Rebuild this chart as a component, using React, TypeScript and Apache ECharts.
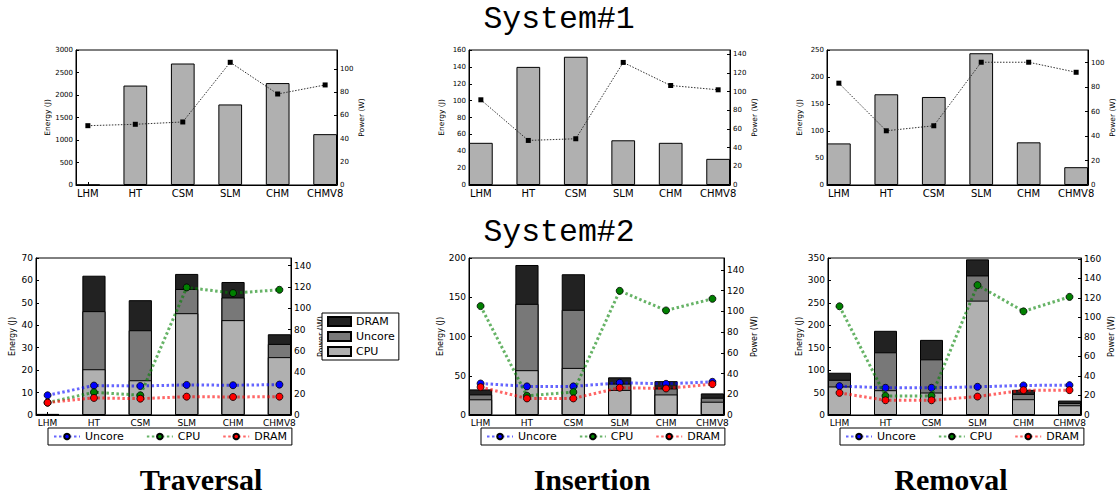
import React, { useEffect, useRef } from 'react';
import * as echarts from 'echarts';

// ---------- data ----------
const categories = ['LHM', 'HT', 'CSM', 'SLM', 'CHM', 'CHMV8'];

// System#1 (top row)
const travS1Energy = [0, 2210, 2700, 1790, 2265, 1130];
const travS1Power = [51.1, 52.3, 54.3, 105.7, 78.4, 86.2];
const insS1Energy = [50, 140, 152, 53, 50, 31];
const insS1Power = [91.2, 47.7, 49.5, 131.2, 106.5, 101.9];
const remS1Energy = [77, 168, 163, 244, 79, 33];
const remS1Power = [83.2, 44.3, 48.4, 100.3, 100.3, 92.1];

// System#2 (bottom row) energy components (J)
const travS2Cpu = [0.2, 20.4, 15.5, 45.4, 42.3, 25.8];
const travS2Uncore = [0.1, 25.9, 22.3, 10.8, 10.1, 5.9];
const travS2Dram = [0.2, 15.8, 13.4, 6.7, 6.9, 4.3];
const insS2Cpu = [20, 57.1, 60, 32, 26.2, 16.9];
const insS2Uncore = [6.2, 84.5, 74, 8, 7.6, 5.1];
const insS2Dram = [6.4, 49.5, 45.3, 8, 9.3, 5.5];
const remS2Cpu = [63.6, 55.3, 50.1, 255, 35.2, 21.7];
const remS2Uncore = [14.9, 84.5, 74, 56.1, 11.9, 5.2];
const remS2Dram = [15.7, 47.9, 43.4, 35.9, 9, 5.3];

// System#2 power (W)
const travS2PUncore = [18.5, 27.6, 27.2, 28.2, 27.9, 28.5];
const travS2PCpu = [11.6, 21.3, 18.5, 119.6, 114.3, 117.4];
const travS2PDram = [11.6, 16.0, 15.3, 17.2, 16.9, 17.2];
const insS2PUncore = [30.4, 27.6, 27.6, 31.1, 30.1, 32.0];
const insS2PCpu = [105.1, 18.6, 22.1, 119.8, 100.9, 112.1];
const insS2PDram = [26.9, 16.0, 16.0, 26.3, 25.6, 29.8];
const remS2PUncore = [29.6, 27.9, 27.9, 28.9, 30.3, 30.6];
const remS2PCpu = [111.5, 19.6, 19.6, 133.2, 106.3, 121.1];
const remS2PDram = [22.7, 15.1, 15.1, 18.9, 25.5, 25.5];

// axis ranges / ticks
const topEnergyAxes = [
  { max: 3000, interval: 500 },
  { max: 160, interval: 20 },
  { max: 250, interval: 50 },
];
const topPowerAxes = [
  { max: 116.3, ticks: [0, 20, 40, 60, 80, 100] },
  { max: 144.5, ticks: [0, 20, 40, 60, 80, 100, 120, 140] },
  { max: 110.3, ticks: [0, 20, 40, 60, 80, 100] },
];
const bottomEnergyAxes = [
  { max: 70, interval: 10 },
  { max: 200, interval: 50 },
  { max: 350, interval: 50 },
];
const bottomPowerAxes = [
  { max: 147.2, ticks: [0, 20, 40, 60, 80, 100, 120, 140] },
  { max: 151.5, ticks: [0, 20, 40, 60, 80, 100, 120, 140] },
  { max: 161, ticks: [0, 20, 40, 60, 80, 100, 120, 140, 160] },
];

const panelTitles = ['Traversal', 'Insertion', 'Removal'];
const rowTitles = ['System#1', 'System#2'];

// ---------- layout ----------
const FONT = 'DejaVu Sans';
const topGrids = [
  { left: 76, top: 50, width: 261, height: 135 },
  { left: 469, top: 50, width: 261, height: 135 },
  { left: 827, top: 50, width: 261, height: 135 },
];
const bottomGrids = [
  { left: 36, top: 258, width: 255, height: 157 },
  { left: 469, top: 258, width: 255, height: 157 },
  { left: 828, top: 258, width: 253, height: 157 },
];
const bottomLegendLeft = [48, 481, 840];
const panelCenters = [201, 592, 951];

const CPU_COLOR = '#b0b0b0';
const UNCORE_COLOR = '#787878';
const DRAM_COLOR = '#222222';

export default function App() {
  const ref = useRef<HTMLDivElement>(null);

  useEffect(() => {
    document.body.style.margin = '0';
    const chart = echarts.init(ref.current!, null, { renderer: 'svg' });

    const xs = categories.map((_, i) => i + 0.25);
    const pair = (vals: number[]) => xs.map((x, i) => [x, vals[i]]);

    const grids: any[] = [];
    const xAxes: any[] = [];
    const yAxes: any[] = [];
    const series: any[] = [];

    const addAxes = (
      g: any,
      top: boolean,
      energy: { max: number; interval: number },
      power: { max: number; ticks: number[] }
    ) => {
      const k = grids.length;
      grids.push({ ...g, show: true, borderColor: '#000', borderWidth: 1, backgroundColor: 'transparent' });
      const tickFont = top ? 7 : 9;
      const xFont = top ? 10 : 9;
      xAxes.push({
        type: 'value',
        gridIndex: k,
        min: 0,
        max: 5.5,
        axisLine: { show: true, lineStyle: { color: '#000' } },
        axisTick: { show: true, inside: true, length: 3, customValues: xs, lineStyle: { color: '#000' } },
        axisLabel: {
          customValues: xs,
          formatter: (v: number) => categories[Math.round(v - 0.25)] ?? '',
          color: '#000',
          fontSize: xFont,
          fontFamily: FONT,
          margin: 3,
        },
        splitLine: { show: false },
      });
      yAxes.push({
        type: 'value',
        gridIndex: k,
        position: 'left',
        min: 0,
        max: energy.max,
        interval: energy.interval,
        name: 'Energy (J)',
        nameLocation: 'middle',
        nameRotate: 90,
        nameGap: top ? 24 : 20,
        nameTextStyle: { fontSize: top ? 7.5 : 8, fontFamily: FONT, color: '#000' },
        axisLine: { show: true, lineStyle: { color: '#000' } },
        axisTick: { show: true, inside: true, length: 3, lineStyle: { color: '#000' } },
        axisLabel: {
          color: '#000',
          fontSize: tickFont,
          fontFamily: FONT,
          margin: 3,
          formatter: (v: number) => String(v),
        },
        splitLine: { show: false },
      });
      yAxes.push({
        type: 'value',
        gridIndex: k,
        position: 'right',
        min: 0,
        max: power.max,
        name: 'Power (W)',
        nameLocation: 'middle',
        nameRotate: 90,
        nameGap: top ? 20 : 26,
        nameTextStyle: { fontSize: top ? 7.5 : 8, fontFamily: FONT, color: '#000' },
        axisLine: { show: true, lineStyle: { color: '#000' } },
        axisTick: { show: true, inside: true, length: 3, customValues: power.ticks, lineStyle: { color: '#000' } },
        axisLabel: {
          customValues: power.ticks,
          color: '#000',
          fontSize: tickFont,
          fontFamily: FONT,
          margin: 3,
          formatter: (v: number) => String(v),
        },
        splitLine: { show: false },
      });
      return k;
    };

    const topData = [
      [travS1Energy, travS1Power],
      [insS1Energy, insS1Power],
      [remS1Energy, remS1Power],
    ];
    topData.forEach(([energy, power], p) => {
      const k = addAxes(topGrids[p], true, topEnergyAxes[p], topPowerAxes[p]);
      const barW = (0.5 * topGrids[p].width) / 5.5;
      series.push({
        type: 'bar',
        name: 'Energy',
        xAxisIndex: k,
        yAxisIndex: 2 * k,
        data: pair(energy),
        barWidth: barW,
        itemStyle: { color: CPU_COLOR, borderColor: '#000', borderWidth: 1 },
        z: 2,
      });
      series.push({
        type: 'line',
        name: 'Power',
        xAxisIndex: k,
        yAxisIndex: 2 * k + 1,
        data: pair(power),
        symbol: 'rect',
        symbolSize: 5,
        itemStyle: { color: '#000' },
        lineStyle: { color: '#333', width: 1, type: [1.5, 1.5] },
        z: 3,
      });
    });

    const bottomData = [
      [travS2Cpu, travS2Uncore, travS2Dram, travS2PUncore, travS2PCpu, travS2PDram],
      [insS2Cpu, insS2Uncore, insS2Dram, insS2PUncore, insS2PCpu, insS2PDram],
      [remS2Cpu, remS2Uncore, remS2Dram, remS2PUncore, remS2PCpu, remS2PDram],
    ];
    bottomData.forEach(([cpu, unc, dram, pUnc, pCpu, pDram], p) => {
      const k = addAxes(bottomGrids[p], false, bottomEnergyAxes[p], bottomPowerAxes[p]);
      const barW = (0.5 * bottomGrids[p].width) / 5.5;
      // stacked segments drawn as cumulative bars, largest first
      const cpuTop = cpu;
      const uncTop = cpu.map((v, i) => v + unc[i]);
      const dramTop = uncTop.map((v, i) => v + dram[i]);
      const bars: [string, number[], string][] = [
        ['DRAM energy', dramTop, DRAM_COLOR],
        ['Uncore energy', uncTop, UNCORE_COLOR],
        ['CPU energy', cpuTop, CPU_COLOR],
      ];
      bars.forEach(([name, vals, color]) => {
        series.push({
          type: 'bar',
          name,
          xAxisIndex: k,
          yAxisIndex: 2 * k,
          data: pair(vals),
          barWidth: barW,
          barGap: '-100%',
          itemStyle: { color, borderColor: '#000', borderWidth: 1 },
          z: 2,
        });
      });
      const lines: [string, number[], string][] = [
        ['Uncore', pUnc, '#0000ff'],
        ['CPU', pCpu, '#008000'],
        ['DRAM', pDram, '#ff0000'],
      ];
      lines.forEach(([name, vals, color], j) => {
        series.push({
          type: 'line',
          name,
          xAxisIndex: k,
          yAxisIndex: 2 * k + 1,
          data: pair(vals),
          symbol: 'circle',
          symbolSize: 7,
          itemStyle: { color, borderColor: '#000', borderWidth: 0.8 },
          lineStyle: { color, width: 3, type: [2.5, 2.5], opacity: 0.6 },
          z: 3 + j,
        });
      });
    });

    const lineLegends = bottomLegendLeft.map((left) => ({
      data: ['Uncore', 'CPU', 'DRAM'],
      left,
      top: 428,
      orient: 'horizontal',
      borderColor: '#000',
      borderWidth: 1,
      borderRadius: 0,
      padding: [3, 5, 3, 5],
      itemGap: 22,
      itemWidth: 26,
      itemHeight: 7,
      backgroundColor: '#fff',
      selectedMode: false,
      textStyle: { fontFamily: FONT, fontSize: 11, color: '#000' },
    }));

    const option: any = {
      animation: false,
      backgroundColor: '#fff',
      grid: grids,
      xAxis: xAxes,
      yAxis: yAxes,
      series,
      legend: [
        {
          data: ['DRAM energy', 'Uncore energy', 'CPU energy'],
          formatter: (n: string) => n.replace(' energy', ''),
          orient: 'vertical',
          left: 322,
          top: 313,
          borderColor: '#000',
          borderWidth: 1,
          borderRadius: 0,
          padding: [3, 4, 3, 5],
          itemGap: 4,
          itemWidth: 23,
          itemHeight: 9,
          icon: 'rect',
          backgroundColor: '#fff',
          selectedMode: false,
          textStyle: { fontFamily: FONT, fontSize: 11, color: '#000' },
        },
        ...lineLegends,
      ],
      graphic: [
        ...rowTitles.map((t, i) => ({
          type: 'text',
          x: 559,
          y: i === 0 ? 19 : 232,
          style: {
            text: t,
            font: '31.5px "Liberation Mono"',
            fill: '#000',
            textAlign: 'center',
            textVerticalAlign: 'middle',
          },
        })),
        ...panelTitles.map((t, i) => ({
          type: 'text',
          x: panelCenters[i],
          y: 479,
          style: {
            text: t,
            font: 'bold 30px "Liberation Serif"',
            fill: '#000',
            textAlign: 'center',
            textVerticalAlign: 'middle',
          },
        })),
      ],
    };

    chart.setOption(option);
    return () => chart.dispose();
  }, []);

  return (
    <div
      ref={ref}
      style={{ position: 'absolute', left: 0, top: 0, width: 1119, height: 497 }}
    />
  );
}
